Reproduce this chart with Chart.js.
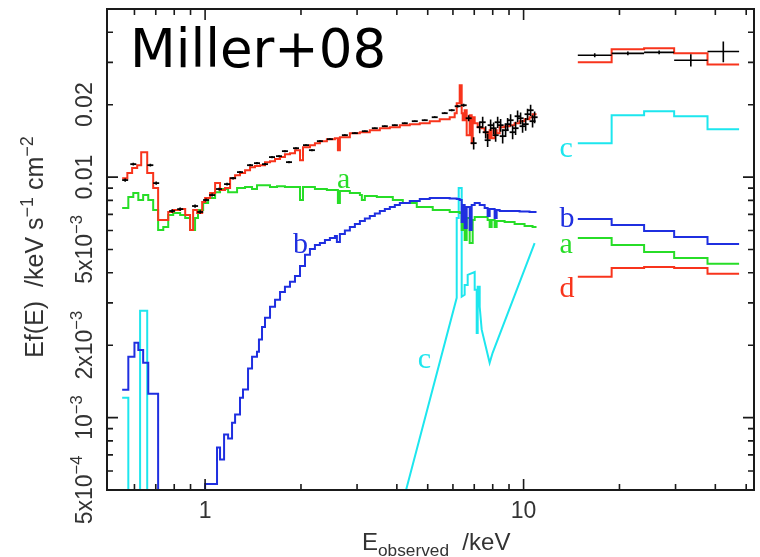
<!DOCTYPE html>
<html>
<head>
<meta charset="utf-8">
<script src="https://cdn.jsdelivr.net/npm/chart.js@4.4.1/dist/chart.umd.min.js"></script>
<style>
  html, body { margin: 0; padding: 0; background: #fff; }
  canvas { display: block; }
</style>
</head>
<body>
<canvas id="spec" width="760" height="557"></canvas>
<script>
// ---- Soft band (XMM, 0.55-11 keV): histogram bin left edges (keV); last edge closes the final bin
const totalE = [0.549,0.570,0.590,0.612,0.630,0.658,0.687,0.712,0.766,0.794,0.835,0.866,0.897,0.917,0.944,0.979,
  1.000,1.037,1.075,1.114,1.155,1.198,1.242,1.287,1.335,1.384,1.434,1.487,1.542,1.599,1.658,1.719,1.781,1.847,1.915,
  1.986,2.029,2.134,2.212,2.293,2.412,2.556,2.612,2.650,2.848,3.062,3.290,3.537,3.802,4.087,4.392,4.721,5.074,5.454,
  5.861,6.076,6.166,6.301,6.392,6.438,6.531,6.627,6.772,6.871,6.921,7.022,7.176,7.387,7.546,7.711,7.824,7.938,8.111,
  8.230,8.410,8.718,9.040,9.371,9.716,10.07,10.44,10.67,10.98];
// total model, E f(E) in keV s^-1 cm^-2
const totalF = [9.90e-3,1.039e-2,1.090e-2,1.121e-2,1.270e-2,1.039e-2,9.00e-3,6.63e-3,7.16e-3,7.30e-3,7.36e-3,6.96e-3,
  6.03e-3,7.30e-3,7.09e-3,7.88e-3,8.18e-3,8.58e-3,9.44e-3,8.83e-3,9.00e-3,9.90e-3,1.019e-2,1.039e-2,1.069e-2,1.100e-2,
  1.111e-2,1.121e-2,1.154e-2,1.165e-2,1.188e-2,1.211e-2,1.246e-2,1.258e-2,1.294e-2,1.176e-2,1.332e-2,1.358e-2,1.384e-2,
  1.411e-2,1.438e-2,1.451e-2,1.294e-2,1.466e-2,1.523e-2,1.537e-2,1.567e-2,1.597e-2,1.613e-2,1.644e-2,1.660e-2,1.675e-2,
  1.708e-2,1.741e-2,1.774e-2,1.844e-2,2.028e-2,2.41e-2,1.844e-2,1.724e-2,1.897e-2,1.494e-2,1.808e-2,1.384e-2,1.774e-2,
  1.675e-2,1.613e-2,1.597e-2,1.537e-2,1.451e-2,1.567e-2,1.451e-2,1.567e-2,1.523e-2,1.613e-2,1.628e-2,1.644e-2,1.675e-2,
  1.708e-2,1.741e-2,1.774e-2,1.826e-2];

// component a
const compAE = [0.549,0.574,0.595,0.617,0.639,0.663,0.687,0.712,0.739,0.766,0.794,0.835,0.866,0.897,0.930,0.950,0.986,
  1.022,1.075,1.114,1.181,1.260,1.335,1.404,1.455,1.599,1.682,1.781,1.986,2.029,2.212,2.412,2.612,2.650,2.848,3.062,
  3.106,3.174,3.461,3.885,4.176,4.620,5.185,5.861,6.301,6.392,6.438,6.531,6.627,6.772,6.921,7.022,7.711,7.824,7.938,
  8.111,8.230,8.718,9.371,10.07,10.67,10.98];
const compAF = [7.44e-3,8.26e-3,8.58e-3,8.03e-3,8.42e-3,8.03e-3,7.30e-3,6.03e-3,6.20e-3,6.96e-3,7.09e-3,6.96e-3,6.76e-3,
  6.03e-3,6.76e-3,7.30e-3,7.80e-3,8.18e-3,8.66e-3,8.92e-3,8.66e-3,9.00e-3,9.09e-3,8.92e-3,9.26e-3,9.09e-3,9.17e-3,
  9.09e-3,8.03e-3,9.09e-3,8.92e-3,8.83e-3,7.80e-3,8.75e-3,8.58e-3,8.42e-3,8.03e-3,8.34e-3,8.26e-3,8.03e-3,7.80e-3,
  7.51e-3,7.30e-3,7.16e-3,7.09e-3,6.03e-3,6.89e-3,5.48e-3,6.76e-3,5.32e-3,6.63e-3,6.82e-3,6.63e-3,6.20e-3,6.63e-3,
  6.20e-3,6.57e-3,6.51e-3,6.38e-3,6.26e-3,6.20e-3];

// component b
const compBE = [0.549,0.574,0.600,0.617,0.639,0.663,0.712,1.000,1.090,1.114,1.147,1.181,1.215,1.242,1.287,1.315,1.364,
  1.404,1.455,1.476,1.509,1.542,1.599,1.658,1.719,1.781,1.847,1.915,1.986,2.059,2.134,2.212,2.293,2.378,2.465,2.556,
  2.593,2.650,2.747,2.848,2.953,3.062,3.174,3.290,3.411,3.537,3.667,3.802,3.942,4.087,4.392,4.721,5.074,5.454,5.861,
  6.166,6.301,6.392,6.438,6.531,6.627,6.772,6.871,7.022,7.281,7.546,7.711,7.824,8.111,8.230,8.410,9.716,10.44,10.98];
const compBF = [1.307e-3,1.79e-3,2.05e-3,1.91e-3,1.69e-3,1.258e-3,1.0e-4,5.3e-4,7.51e-4,6.69e-4,8.50e-4,8.18e-4,9.53e-4,
  1.03e-3,1.21e-3,1.31e-3,1.60e-3,1.79e-3,1.88e-3,2.11e-3,2.38e-3,2.60e-3,2.89e-3,3.09e-3,3.33e-3,3.50e-3,3.67e-3,
  3.88e-3,4.27e-3,4.75e-3,5.03e-3,5.22e-3,5.32e-3,5.48e-3,5.58e-3,5.69e-3,5.37e-3,5.80e-3,6.00e-3,6.20e-3,6.38e-3,
  6.57e-3,6.73e-3,6.89e-3,7.06e-3,7.23e-3,7.36e-3,7.51e-3,7.65e-3,7.80e-3,7.95e-3,8.10e-3,8.18e-3,8.18e-3,8.14e-3,
  8.10e-3,8.03e-3,6.51e-3,7.65e-3,6.14e-3,7.51e-3,6.03e-3,7.65e-3,7.80e-3,7.65e-3,7.44e-3,6.89e-3,7.36e-3,6.76e-3,
  7.30e-3,7.23e-3,7.20e-3,7.16e-3];

// component c: soft-band lines (histogram) and the reflection hump with its Fe K line (polyline)
const compCE = [0.549,0.574,0.625,0.658,0.700];
const compCF = [1.21e-3,1.0e-4,2.78e-3,1.0e-4];
const ironE = [4.20,6.166,6.166,6.255,6.255,6.392,6.392,6.531,6.531,6.675,6.675,7.022,7.022,7.125,7.125,7.176,7.176,
  7.281,7.281,7.387,7.824,7.995,10.83];
const ironF = [4.57e-4,3.15e-3,6.76e-3,6.76e-3,9.00e-3,9.00e-3,3.18e-3,3.24e-3,3.56e-3,3.56e-3,3.92e-3,4.03e-3,3.40e-3,
  3.40e-3,2.25e-3,2.25e-3,3.50e-3,3.50e-3,2.89e-3,2.32e-3,1.69e-3,1.86e-3,5.32e-3];

// observed counts (unfolded), bin centres
const dataE = [0.561,0.595,0.673,0.702,0.788,0.835,0.930,0.965,1.007,1.052,1.106,1.172,1.224,1.287,1.384,1.455,1.542,
  1.622,1.706,1.781,1.834,1.929,2.074,2.165,2.293,2.465,2.747,2.953,3.174,3.411,3.667,3.942,4.236,4.554,4.894,5.260,
  5.654,5.948,6.210,6.484,6.723,6.970,7.281,7.439,7.601,7.711,7.879,8.053,8.171,8.290,8.470,8.596,8.781,8.910,9.104,
  9.238,9.438,9.576,9.786,9.928,10.15,10.29,10.52,10.67,10.83];
const dataF = [9.72e-3,1.132e-2,1.121e-2,9.44e-3,7.23e-3,7.36e-3,7.58e-3,7.16e-3,8.03e-3,8.42e-3,8.92e-3,9.35e-3,9.90e-3,
  1.049e-2,1.121e-2,1.143e-2,1.132e-2,1.211e-2,1.222e-2,1.282e-2,1.154e-2,1.319e-2,1.358e-2,1.294e-2,1.411e-2,1.438e-2,
  1.494e-2,1.523e-2,1.552e-2,1.597e-2,1.628e-2,1.644e-2,1.675e-2,1.708e-2,1.724e-2,1.774e-2,1.844e-2,1.897e-2,1.971e-2,
  1.990e-2,1.757e-2,1.384e-2,1.613e-2,1.691e-2,1.537e-2,1.424e-2,1.644e-2,1.597e-2,1.494e-2,1.691e-2,1.644e-2,1.480e-2,
  1.567e-2,1.660e-2,1.724e-2,1.537e-2,1.597e-2,1.791e-2,1.757e-2,1.628e-2,1.660e-2,1.826e-2,1.897e-2,1.708e-2,1.774e-2];
const dataErr = [1.5e-4,1.5e-4,1.5e-4,1.5e-4,1.2e-4,1.2e-4,1.2e-4,1.2e-4,1.2e-4,1.2e-4,1.2e-4,1.2e-4,1.2e-4,1.2e-4,
  1.2e-4,1.2e-4,1.2e-4,1.2e-4,1.2e-4,1.2e-4,1.2e-4,1.2e-4,1.2e-4,1.2e-4,1.2e-4,1.2e-4,1.2e-4,1.2e-4,1.2e-4,1.2e-4,
  1.2e-4,1.2e-4,1.2e-4,1.2e-4,1.2e-4,1.5e-4,1.5e-4,2.0e-4,2.5e-4,3.0e-4,5.0e-4,8.0e-4,9.0e-4,9.0e-4,9.0e-4,9.0e-4,
  9.0e-4,9.0e-4,9.0e-4,9.0e-4,1.0e-3,1.0e-3,1.0e-3,1.0e-3,1.0e-3,1.0e-3,1.0e-3,1.0e-3,1.0e-3,1.0e-3,1.0e-3,1.0e-3,
  1.0e-3,1.0e-3,1.0e-3];

// ---- Hard band (14.8-47.5 keV): bin edges, data, total model and components
const hardEdges = [14.8,18.9,23.9,29.7,37.8,47.5];
const hardData  = [3.21e-2,3.27e-2,3.30e-2,3.06e-2,3.33e-2];
const hardErr   = [6e-4,6e-4,6e-4,1.8e-3,3.3e-3];
const hardTotal = [3.00e-2,3.40e-2,3.43e-2,3.27e-2,2.94e-2];
const hardC     = [1.384e-2,1.808e-2,1.879e-2,1.791e-2,1.582e-2];
const hardB     = [6.69e-3,6.32e-3,5.97e-3,5.64e-3,5.27e-3];
const hardA     = [5.58e-3,5.22e-3,4.88e-3,4.61e-3,4.36e-3];
const hardD     = [3.85e-3,4.19e-3,4.23e-3,4.19e-3,3.96e-3];

// ---- Axes
const xRange = [0.492, 52.9];
const yRange = [5e-4, 0.05];
const xMajorTicks = [1, 10];
const xMinorTicks = [0.6,0.7,0.8,0.9,2,3,4,5,6,7,8,9,20,30,40,50];
const yMajorTicks = [1e-3, 1e-2];
const yMinorTicks = [5e-4,6e-4,7e-4,8e-4,9e-4,2e-3,3e-3,4e-3,5e-3,6e-3,7e-3,8e-3,9e-3,0.02,0.03,0.04];
const xTickValues = [1, 10];
const xTickLabels = ['1', '10'];
const yTickValues = [5e-4, 1e-3, 2e-3, 5e-3, 0.01, 0.02];
const yTickLabels = ['5x10^{\u22124}', '10^{\u22123}', '2x10^{\u22123}', '5x10^{\u22123}', '0.01', '0.02'];

const COL = { data: '#000000', total: '#f8341c', a: '#27dd27', b: '#1f2fe0', c: '#1de6ee', d: '#f8341c' };

// component tags, anchored in data coordinates (keV, flux)
const tags = [
  { t: 'a', e: 2.593, f: 9.00e-3, c: COL.a },
  { t: 'b', e: 1.887, f: 4.84e-3, c: COL.b },
  { t: 'c', e: 4.654, f: 1.61e-3, c: COL.c },
  { t: 'c', e: 12.97, f: 1.211e-2, c: COL.c },
  { t: 'b', e: 12.97, f: 6.20e-3, c: COL.b },
  { t: 'a', e: 12.97, f: 4.84e-3, c: COL.a },
  { t: 'd', e: 12.97, f: 3.18e-3, c: COL.d }
];

function histPoints(edges, values) {
  const pts = values.map((v, i) => ({ x: edges[i], y: v }));
  pts.push({ x: edges[values.length], y: values[values.length - 1] });
  return pts;
}
function pairPoints(xs, ys) { return xs.map((x, i) => ({ x: x, y: ys[i] })); }
function stepSet(label, pts, color) {
  return { label: label, data: pts, showLine: true, stepped: 'before', borderColor: color,
           borderWidth: 2, pointRadius: 0, fill: false };
}

// rich text: ^{...} superscript, _{...} subscript
function richParts(s) {
  const out = []; const re = /([\^_])\{([^}]*)\}/g; let last = 0, m;
  while ((m = re.exec(s))) {
    if (m.index > last) out.push({ t: s.slice(last, m.index), k: 0 });
    out.push({ t: m[2], k: m[1] === '^' ? 1 : -1 });
    last = re.lastIndex;
  }
  if (last < s.length) out.push({ t: s.slice(last), k: 0 });
  return out;
}
function drawRich(ctx, s, size, family, x, y, rot, align, color) {
  const parts = richParts(s);
  const fontFor = k => (k ? size * 0.72 : size) + 'px ' + family;
  ctx.save();
  ctx.translate(x, y); ctx.rotate(rot);
  ctx.fillStyle = color; ctx.textAlign = 'left'; ctx.textBaseline = 'alphabetic';
  let w = 0;
  parts.forEach(p => { ctx.font = fontFor(p.k); p.w = ctx.measureText(p.t).width; w += p.w; });
  let cx = align === 'center' ? -w / 2 : (align === 'right' ? -w : 0);
  parts.forEach(p => {
    ctx.font = fontFor(p.k);
    const dy = p.k === 1 ? -size * 0.42 : (p.k === -1 ? size * 0.24 : 0);
    ctx.fillText(p.t, cx, dy);
    cx += p.w;
  });
  ctx.restore();
}

const framePlugin = {
  id: 'frame',
  afterDatasetsDraw(chart) {
    const { ctx, scales: { x, y } } = chart;
    ctx.save();
    ctx.strokeStyle = COL.data; ctx.lineWidth = 1.6;
    ctx.beginPath();
    // vertical error bars on the soft-band points
    dataE.forEach((e, i) => {
      const px = x.getPixelForValue(e);
      ctx.moveTo(px, y.getPixelForValue(dataF[i] - dataErr[i]));
      ctx.lineTo(px, y.getPixelForValue(dataF[i] + dataErr[i]));
    });
    // hard-band crosses: bin width and 1-sigma range
    hardData.forEach((f, i) => {
      const lo = hardEdges[i], hi = hardEdges[i + 1];
      const py = y.getPixelForValue(f);
      ctx.moveTo(x.getPixelForValue(lo), py); ctx.lineTo(x.getPixelForValue(hi), py);
      const pc = x.getPixelForValue(Math.sqrt(lo * hi));
      ctx.moveTo(pc, y.getPixelForValue(f - hardErr[i])); ctx.lineTo(pc, y.getPixelForValue(f + hardErr[i]));
    });
    ctx.stroke();
    ctx.restore();
  },
  afterDraw(chart) {
    const { ctx, chartArea: a, scales: { x, y } } = chart;
    ctx.save();
    // component tags
    ctx.textAlign = 'left'; ctx.textBaseline = 'alphabetic';
    ctx.font = '30px "Liberation Serif"';
    tags.forEach(g => { ctx.fillStyle = g.c; ctx.fillText(g.t, x.getPixelForValue(g.e), y.getPixelForValue(g.f)); });

    // frame and inward ticks on all four sides
    ctx.strokeStyle = '#1a1a1a'; ctx.lineWidth = 2;
    ctx.strokeRect(a.left, a.top, a.right - a.left, a.bottom - a.top);
    ctx.lineWidth = 1.6;
    ctx.beginPath();
    const xt = (v, L) => { const p = x.getPixelForValue(v);
      ctx.moveTo(p, a.bottom); ctx.lineTo(p, a.bottom - L); ctx.moveTo(p, a.top); ctx.lineTo(p, a.top + L); };
    const yt = (v, L) => { const p = y.getPixelForValue(v);
      ctx.moveTo(a.left, p); ctx.lineTo(a.left + L, p); ctx.moveTo(a.right, p); ctx.lineTo(a.right - L, p); };
    xMajorTicks.forEach(v => xt(v, 11)); xMinorTicks.forEach(v => xt(v, 6));
    yMajorTicks.forEach(v => yt(v, 11)); yMinorTicks.forEach(v => yt(v, 6));
    ctx.stroke();

    // tick labels
    const tf = '"Liberation Sans", Arial, sans-serif';
    xTickValues.forEach((v, i) => drawRich(ctx, xTickLabels[i], 23, tf, x.getPixelForValue(v), a.bottom + 28, 0, 'center', '#333'));
    yTickValues.forEach((v, i) => drawRich(ctx, yTickLabels[i], 23, tf, a.left - 15, y.getPixelForValue(v), -Math.PI / 2, 'center', '#333'));

    // axis titles
    drawRich(ctx, 'E_{observed}  /keV', 24, tf, 362, 550, 0, 'left', '#333');
    drawRich(ctx, 'Ef(E)  /keV s^{\u22121} cm^{\u22122}', 25, tf, 43, 247, -Math.PI / 2, 'center', '#333');

    // panel title
    ctx.fillStyle = '#000'; ctx.font = '53px "DejaVu Sans"';
    ctx.textAlign = 'left'; ctx.textBaseline = 'alphabetic';
    ctx.fillText('Miller+08', a.left + 23, 67);
    ctx.restore();
  }
};

new Chart(document.getElementById('spec'), {
  type: 'scatter',
  data: {
    datasets: [
      { label: 'data', data: pairPoints(dataE, dataF), showLine: false, pointStyle: 'line',
        pointRadius: 3, pointBorderWidth: 1.8, borderColor: COL.data, backgroundColor: COL.data },
      stepSet('total', histPoints(totalE, totalF), COL.total),
      stepSet('total hard', histPoints(hardEdges, hardTotal), COL.total),
      stepSet('b', histPoints(compBE, compBF), COL.b),
      stepSet('b hard', histPoints(hardEdges, hardB), COL.b),
      stepSet('a', histPoints(compAE, compAF), COL.a),
      stepSet('a hard', histPoints(hardEdges, hardA), COL.a),
      stepSet('c', histPoints(compCE, compCF), COL.c),
      { label: 'c Fe', data: pairPoints(ironE, ironF), showLine: true, borderColor: COL.c,
        borderWidth: 2, pointRadius: 0, fill: false, tension: 0 },
      stepSet('c hard', histPoints(hardEdges, hardC), COL.c),
      stepSet('d hard', histPoints(hardEdges, hardD), COL.d)
    ]
  },
  options: {
    responsive: false,
    animation: false,
    devicePixelRatio: 1,
    events: [],
    layout: { padding: { left: 107, top: 9, right: 6, bottom: 67 } },
    plugins: { legend: { display: false }, tooltip: { enabled: false } },
    scales: {
      x: { type: 'logarithmic', display: false, min: xRange[0], max: xRange[1] },
      y: { type: 'logarithmic', display: false, min: yRange[0], max: yRange[1] }
    }
  },
  plugins: [framePlugin]
});
</script>
</body>
</html>
